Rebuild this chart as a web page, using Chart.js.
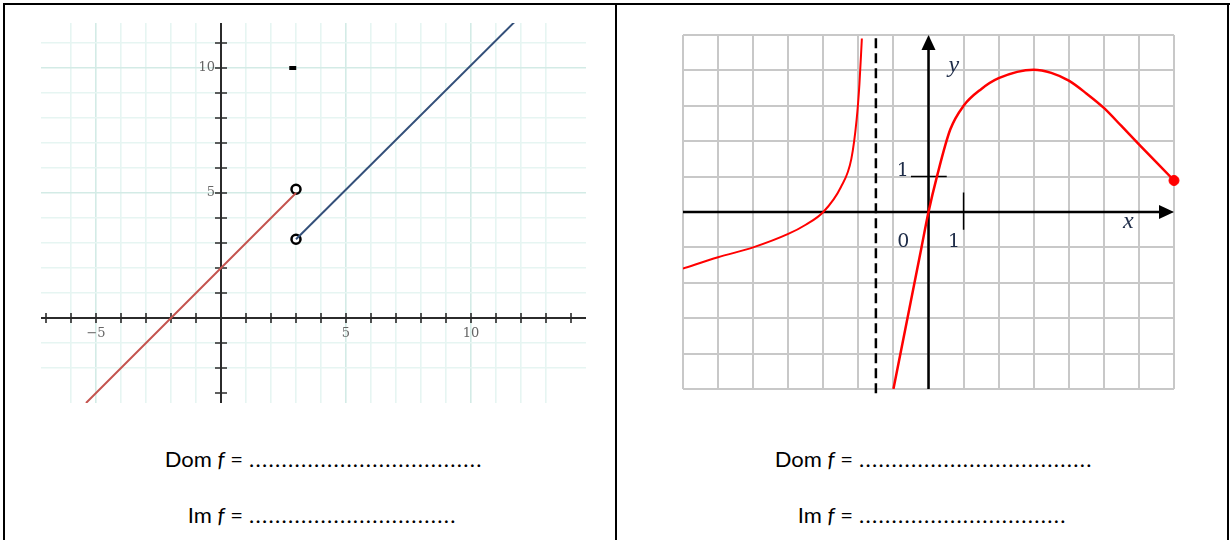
<!DOCTYPE html>
<html>
<head>
<meta charset="utf-8">
<script src="https://cdn.jsdelivr.net/npm/chart.js@4.4.0/dist/chart.umd.min.js"></script>
<style>
  body { margin: 0; width: 1232px; height: 540px; overflow: hidden; position: relative; background: #fff; font-family: Lato, "Open Sans", sans-serif; }
  .rule { position: absolute; background: #000; }
  .box { position: absolute; }
  .row { position: absolute; font-size: 22px; color: #000; white-space: nowrap; line-height: 26px; }
  .row .lab { display: inline-block; text-align: right; }
  .row .dots { letter-spacing: 1.3px; margin-left: 6px; }
</style>
</head>
<body>
<div class="rule" style="left:3px;top:3px;width:1227px;height:2px"></div>
<div class="rule" style="left:3px;top:3px;width:2px;height:537px"></div>
<div class="rule" style="left:615px;top:3px;width:2px;height:537px"></div>
<div class="rule" style="left:1227px;top:3px;width:2px;height:537px"></div>

<div class="box" style="left:41px;top:23px;width:545px;height:380px"><canvas id="leftChart"></canvas></div>
<div class="box" style="left:673px;top:25px;width:511px;height:374px"><canvas id="rightChart"></canvas></div>

<div class="row" style="left:0;top:446px"><span class="lab" style="width:243px">Dom <i>f</i> =</span><span class="dots">....................................</span></div>
<div class="row" style="left:0;top:502px"><span class="lab" style="width:243px">Im <i>f</i> =</span><span class="dots">................................</span></div>
<div class="row" style="left:610px;top:446px"><span class="lab" style="width:243px">Dom <i>f</i> =</span><span class="dots">....................................</span></div>
<div class="row" style="left:610px;top:502px"><span class="lab" style="width:243px">Im <i>f</i> =</span><span class="dots">................................</span></div>

<script>
// left graph: piecewise function
const redX = [-5.4, 3];
const redY = [-3.4, 5];
const blueX = [3, 11.75];
const blueY = [3.15, 11.85];
const openX = [3, 3];
const openY = [5.15, 3.15];
const dotX = [2.87];
const dotY = [10];
const leftTickLabelsX = [-5, 5, 10];
const leftTickLabelsY = [5, 10];

// right graph: curve with asymptote
const branch1X = [-7, -6, -5, -4, -3.5, -3, -2.5, -2.2, -2.05, -1.97, -1.9];
const branch1Y = [-1.6, -1.28, -1.0, -0.62, -0.36, 0, 0.7, 1.5, 2.6, 3.6, 4.9];
const branch2X = [-1, -0.6, -0.2, 0, 0.24, 0.62, 1, 1.5, 2, 3, 3.5, 4, 4.5, 5, 5.5, 6, 6.5, 7];
const branch2Y = [-5, -3, -1, 0, 1, 2.33, 3, 3.47, 3.78, 4.02, 3.93, 3.71, 3.35, 2.94, 2.43, 1.91, 1.4, 0.89];
const asymX = [-1.5, -1.5];
const asymY = [-5.12, 5];
const endX = [7];
const endY = [0.89];
const rightTickLabelsX = ["0", "1"];
const rightTickLabelsY = ["1"];

function pts(xs, ys) {
  return xs.map((x, i) => ({ x: x, y: ys[i] }));
}

const leftAxes = {
  id: "leftAxes",
  beforeDatasetsDraw(chart) {
    const { ctx, chartArea, scales: { x, y } } = chart;
    const x0 = x.getPixelForValue(0);
    const y0 = y.getPixelForValue(0);
    ctx.save();
    ctx.strokeStyle = "#2b2b2b";
    ctx.lineWidth = 2;
    ctx.beginPath();
    ctx.moveTo(chartArea.left, y0);
    ctx.lineTo(chartArea.right, y0);
    ctx.moveTo(x0, chartArea.top);
    ctx.lineTo(x0, chartArea.bottom);
    ctx.stroke();

    ctx.lineWidth = 1.6;
    ctx.beginPath();
    for (let v = Math.ceil(x.min); v <= x.max; v++) {
      if (v === 0) continue;
      const px = x.getPixelForValue(v);
      ctx.moveTo(px, y0 - 5);
      ctx.lineTo(px, y0 + 5);
    }
    for (let v = Math.ceil(y.min); v <= y.max; v++) {
      if (v === 0) continue;
      const py = y.getPixelForValue(v);
      ctx.moveTo(x0 - 6, py);
      ctx.lineTo(x0 + 6, py);
    }
    ctx.stroke();

    ctx.fillStyle = "#666";
    ctx.font = "13px 'DejaVu Serif', serif";
    ctx.textAlign = "center";
    ctx.textBaseline = "top";
    leftTickLabelsX.forEach(v => {
      ctx.fillText(v < 0 ? "\u2212" + Math.abs(v) : String(v), x.getPixelForValue(v), y0 + 9);
    });
    ctx.textAlign = "right";
    ctx.textBaseline = "middle";
    leftTickLabelsY.forEach(v => {
      ctx.fillText(String(v), x0 - 6, y.getPixelForValue(v));
    });
    ctx.restore();
  }
};

const rightAxes = {
  id: "rightAxes",
  beforeDatasetsDraw(chart) {
    const { ctx, scales: { x, y } } = chart;
    const x0 = x.getPixelForValue(0);
    const y0 = y.getPixelForValue(0);
    const xr = x.getPixelForValue(x.max);
    const xl = x.getPixelForValue(x.min);
    const yt = y.getPixelForValue(y.max);
    const yb = y.getPixelForValue(y.min);
    ctx.save();
    ctx.strokeStyle = "#000";
    ctx.fillStyle = "#000";
    ctx.lineWidth = 2.5;
    ctx.beginPath();
    ctx.moveTo(xl, y0);
    ctx.lineTo(xr - 10, y0);
    ctx.moveTo(x0, yb);
    ctx.lineTo(x0, yt + 10);
    ctx.stroke();

    ctx.beginPath();
    ctx.moveTo(xr, y0);
    ctx.lineTo(xr - 15, y0 - 7);
    ctx.lineTo(xr - 15, y0 + 7);
    ctx.closePath();
    ctx.fill();
    ctx.beginPath();
    ctx.moveTo(x0, yt);
    ctx.lineTo(x0 - 7, yt + 15);
    ctx.lineTo(x0 + 7, yt + 15);
    ctx.closePath();
    ctx.fill();

    // unit marks
    ctx.lineWidth = 1.5;
    const px1 = x.getPixelForValue(1);
    const py1 = y.getPixelForValue(1);
    ctx.beginPath();
    ctx.moveTo(px1, y.getPixelForValue(0.55));
    ctx.lineTo(px1, y.getPixelForValue(-0.5));
    ctx.moveTo(x.getPixelForValue(-0.5), py1);
    ctx.lineTo(x.getPixelForValue(0.52), py1);
    ctx.stroke();

    ctx.fillStyle = "#1d2b47";
    ctx.font = "19px 'DejaVu Serif', serif";
    ctx.textBaseline = "alphabetic";
    ctx.textAlign = "right";
    ctx.fillText(rightTickLabelsY[0], x.getPixelForValue(-0.56), py1 - 1);
    ctx.textAlign = "center";
    ctx.fillText(rightTickLabelsX[0], x.getPixelForValue(-0.72), y.getPixelForValue(-0.98));
    ctx.fillText(rightTickLabelsX[1], x.getPixelForValue(0.73), y.getPixelForValue(-0.98));
    ctx.font = "italic 24px 'Liberation Serif', serif";
    ctx.fillText("x", x.getPixelForValue(5.7), y.getPixelForValue(-0.45));
    ctx.fillText("y", x.getPixelForValue(0.72), y.getPixelForValue(3.95));
    ctx.restore();
  }
};

function leftGridColor(ctx) {
  const v = ctx.tick.value;
  if (Math.abs(v - Math.round(v)) > 1e-6) return "rgba(0,0,0,0)";
  return Math.round(v) % 5 === 0 ? "#d3ebe6" : "#e6f5f2";
}

new Chart(document.getElementById("leftChart"), {
  type: "scatter",
  data: {
    datasets: [
      { data: pts(redX, redY), showLine: true, borderColor: "#c4534e", borderWidth: 2, pointRadius: 0 },
      { data: pts(blueX, blueY), showLine: true, borderColor: "#34507a", borderWidth: 2, pointRadius: 0 },
      { data: pts(openX, openY), pointRadius: 4.5, pointBackgroundColor: "#fff", pointBorderColor: "#000", pointBorderWidth: 2.5, clip: false },
      { data: pts(dotX, dotY), pointStyle: "line", pointRadius: 3.5, pointBorderWidth: 4, pointBorderColor: "#000", clip: false }
    ]
  },
  options: {
    responsive: true,
    maintainAspectRatio: false,
    animation: false,
    layout: { padding: 0, autoPadding: false },
    plugins: { legend: { display: false }, tooltip: { enabled: false } },
    scales: {
      x: {
        type: "linear", min: -7.2, max: 14.6,
        ticks: { display: false, stepSize: 1 },
        border: { display: false },
        grid: { drawTicks: false, color: leftGridColor, lineWidth: 1.6 }
      },
      y: {
        type: "linear", min: -3.4, max: 11.8,
        ticks: { display: false, stepSize: 1 },
        border: { display: false },
        grid: { drawTicks: false, color: leftGridColor, lineWidth: 1.6 }
      }
    }
  },
  plugins: [leftAxes]
});

new Chart(document.getElementById("rightChart"), {
  type: "scatter",
  data: {
    datasets: [
      { data: pts(asymX, asymY), showLine: true, borderColor: "#000", borderWidth: 2.5, borderDash: [10, 5], pointRadius: 0, clip: false },
      { data: pts(branch1X, branch1Y), showLine: true, borderColor: "#ff0000", borderWidth: 2, pointRadius: 0, cubicInterpolationMode: "monotone" },
      { data: pts(branch2X, branch2Y), showLine: true, borderColor: "#ff0000", borderWidth: 2.5, pointRadius: 0, cubicInterpolationMode: "monotone" },
      { data: pts(endX, endY), pointRadius: 5, pointBackgroundColor: "#ff0000", pointBorderColor: "#ff0000", clip: false }
    ]
  },
  options: {
    responsive: true,
    maintainAspectRatio: false,
    animation: false,
    layout: { padding: 10, autoPadding: false },
    plugins: { legend: { display: false }, tooltip: { enabled: false } },
    scales: {
      x: {
        type: "linear", min: -7, max: 7,
        ticks: { display: false, stepSize: 1 },
        border: { display: false },
        grid: { drawTicks: false, color: "#c8c8c8", lineWidth: 2 }
      },
      y: {
        type: "linear", min: -5, max: 5,
        ticks: { display: false, stepSize: 1 },
        border: { display: false },
        grid: { drawTicks: false, color: "#c8c8c8", lineWidth: 2 }
      }
    }
  },
  plugins: [rightAxes]
});
</script>
</body>
</html>
